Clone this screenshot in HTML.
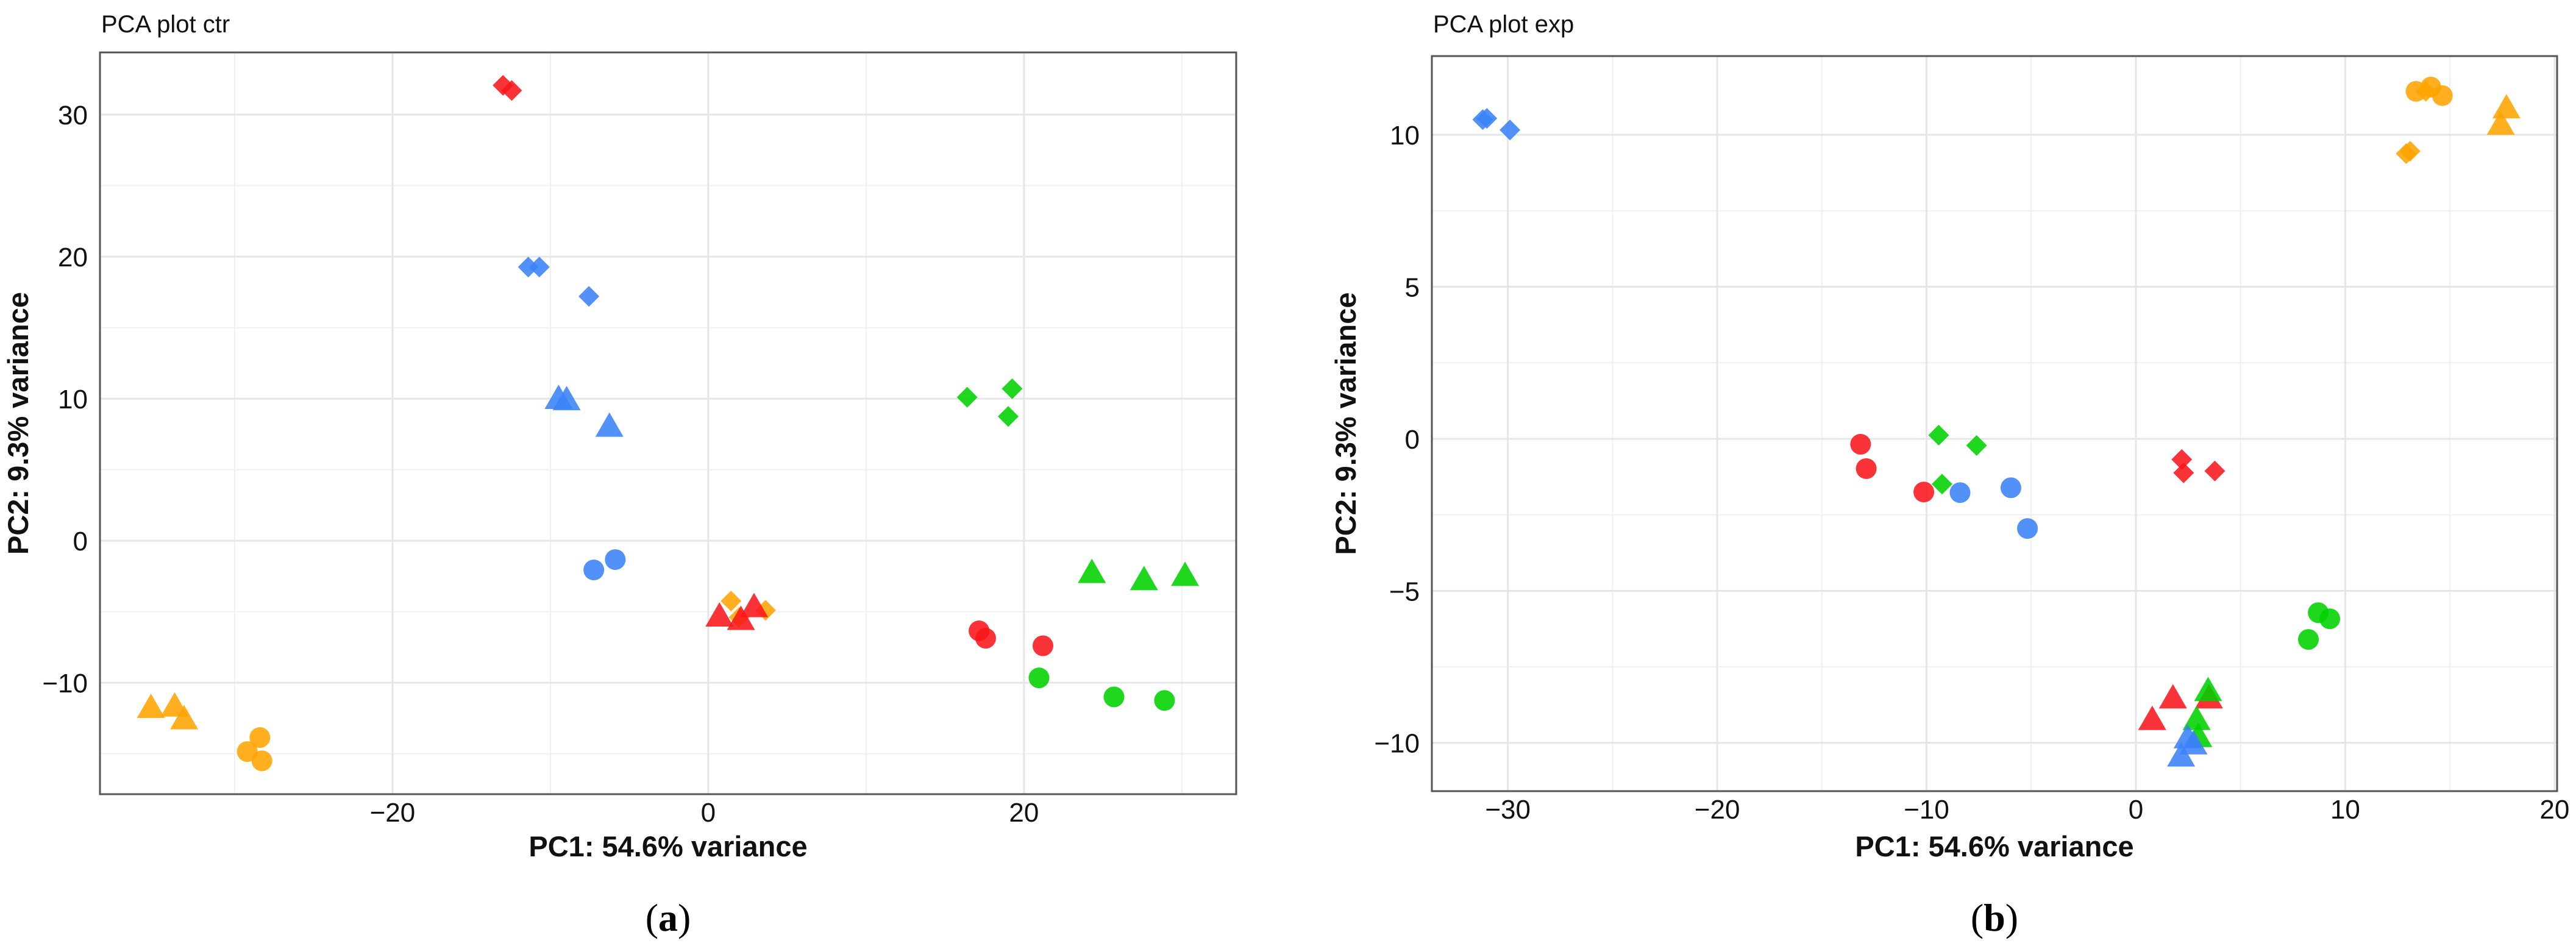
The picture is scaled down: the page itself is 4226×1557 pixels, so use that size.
<!DOCTYPE html>
<html><head><meta charset="utf-8"><style>
html,body{margin:0;padding:0;background:#fff;}
svg{display:block;}
text{font-family:"Liberation Sans",sans-serif;}
</style></head><body>
<svg id="chart" width="4226" height="1557" viewBox="0 0 4226 1557" xmlns="http://www.w3.org/2000/svg">
<g id="panelA"></g>
<g id="panelB"></g>
</svg>
<script>
// ---- Panel A data (PCA plot ctr) ----
const aTicksX = [-20, 0, 20];
const aTicksY = [-10, 0, 10, 20, 30];
const aMinorX = [-30, -10, 10, 30];
const aMinorY = [-15, -5, 5, 15, 25];
const aGroup = ['red','red','blue','blue','blue','blue','blue','blue','blue','blue','orange','orange','orange','red','red','red','green','green','green','green','green','green','red','red','red','green','green','green','orange','orange','orange','orange','orange','orange'];
const aShape = ['d','d','d','d','d','t','t','t','c','c','d','d','d','t','t','t','d','d','d','t','t','t','c','c','c','c','c','c','t','t','t','c','c','c'];
const aX = [-13.0,-12.45,-11.4,-10.7,-7.56,-9.48,-8.97,-6.26,-7.25,-5.89,1.44,1.96,3.63,0.71,2.07,2.9,16.4,19.25,19.0,24.3,27.6,30.2,17.15,17.57,21.2,20.95,25.7,28.9,-35.3,-33.8,-33.2,-28.4,-29.2,-28.27];
const aY = [32.06,31.7,19.27,19.27,17.2,9.96,9.87,8.0,-2.06,-1.33,-4.25,-5.4,-4.9,-5.36,-5.6,-4.7,10.1,10.7,8.75,-2.3,-2.8,-2.5,-6.35,-6.87,-7.4,-9.66,-11.0,-11.25,-11.8,-11.7,-12.6,-13.86,-14.85,-15.5];

// ---- Panel B data (PCA plot exp) ----
const bTicksX = [-30, -20, -10, 0, 10, 20];
const bTicksY = [-10, -5, 0, 5, 10];
const bMinorX = [-25, -15, -5, 5, 15];
const bMinorY = [-7.5, -2.5, 2.5, 7.5];
const bGroup = ['blue','blue','blue','orange','orange','orange','orange','orange','orange','orange','orange','red','red','red','green','green','green','blue','blue','blue','red','red','red','green','green','green','red','red','red','green','green','green','blue','blue','blue'];
const bShape = ['d','d','d','c','c','c','d','d','d','t','t','c','c','c','d','d','d','c','c','c','d','d','d','c','c','c','t','t','t','t','t','t','t','t','t'];
const bX = [-31.2,-31.0,-29.9,13.38,14.09,14.64,13.85,12.91,13.1,17.7,17.43,-13.15,-12.88,-10.13,-9.42,-7.61,-9.26,-8.4,-5.97,-5.18,2.19,2.28,3.77,8.71,9.26,8.24,0.78,1.77,3.49,3.45,2.9,2.98,2.16,2.47,2.75];
const bY = [10.5,10.54,10.16,11.43,11.57,11.29,11.43,9.38,9.46,10.86,10.32,-0.18,-0.98,-1.75,0.12,-0.22,-1.49,-1.77,-1.61,-2.95,-0.68,-1.12,-1.06,-5.72,-5.92,-6.6,-9.26,-8.55,-8.55,-8.31,-9.26,-9.82,-10.46,-9.86,-10.06];

const COLORS = {red:'#F8171B', blue:'#3A82F7', green:'#00D100', orange:'#FFA400'};
const NS = 'http://www.w3.org/2000/svg';

function mk(parent, tag, attrs, text){
  const e = document.createElementNS(NS, tag);
  for (const k in attrs) e.setAttribute(k, attrs[k]);
  if (text !== undefined) e.textContent = text;
  parent.appendChild(e);
  return e;
}

function drawPanel(g, cfg){
  const sx = v => cfg.left + (v - cfg.xmin) / (cfg.xmax - cfg.xmin) * (cfg.right - cfg.left);
  const sy = v => cfg.bottom - (v - cfg.ymin) / (cfg.ymax - cfg.ymin) * (cfg.bottom - cfg.top);
  cfg.minorX.forEach(v => {
    const l = mk(g,'line',{x1:sx(v),x2:sx(v),y1:cfg.top,y2:cfg.bottom,stroke:'#f0f0f0','stroke-width':2});
    
    
  });
  cfg.minorY.forEach(v => {
    const l = mk(g,'line',{x1:cfg.left,x2:cfg.right,y1:sy(v),y2:sy(v),stroke:'#f0f0f0','stroke-width':2});
    
    
  });
  cfg.ticksX.forEach(v => {
    const l = mk(g,'line',{x1:sx(v),x2:sx(v),y1:cfg.top,y2:cfg.bottom,stroke:'#e6e6e6','stroke-width':3});
    
    
    const t = mk(g,'text',{x:sx(v),y:cfg.bottom+45,'font-size':44,'text-anchor':'middle',fill:'#111'}, v<0?'\u2212'+Math.abs(v):String(v));
    
    
  });
  cfg.ticksY.forEach(v => {
    const l = mk(g,'line',{x1:cfg.left,x2:cfg.right,y1:sy(v),y2:sy(v),stroke:'#e6e6e6','stroke-width':3});
    
    
    const t = mk(g,'text',{x:cfg.left-20,y:sy(v)+16,'font-size':44,'text-anchor':'end',fill:'#111'}, v<0?'\u2212'+Math.abs(v):String(v));
    
    
  });
  for (let i=0;i<cfg.X.length;i++){
    const cx = sx(cfg.X[i]), cy = sy(cfg.Y[i]);
    const col = COLORS[cfg.G[i]];
    let m;
    if (cfg.S[i]==='c'){
      m = mk(g,'circle',{cx:cx,cy:cy,r:17,fill:col,'fill-opacity':0.88});
    } else if (cfg.S[i]==='t'){
      m = mk(g,'polygon',{points:`${cx},${cy-24} ${cx+23},${cy+16} ${cx-23},${cy+16}`,fill:col,'fill-opacity':0.88});
    } else {
      m = mk(g,'polygon',{points:`${cx},${cy-17} ${cx+17},${cy} ${cx},${cy+17} ${cx-17},${cy}`,fill:col,'fill-opacity':0.88});
    }
    
    
  }
  const b = mk(g,'rect',{x:cfg.left,y:cfg.top,width:cfg.right-cfg.left,height:cfg.bottom-cfg.top,fill:'none',stroke:'#555','stroke-width':3});
  
  
  const tt = mk(g,'text',{x:cfg.left+2,y:53,'font-size':40,fill:'#111'}, cfg.title);
  
  
  const cxm = (cfg.left+cfg.right)/2;
  const xt = mk(g,'text',{x:cxm,y:1405,'font-size':47,'font-weight':'bold','text-anchor':'middle',fill:'#111'}, 'PC1: 54.6% variance');
  
  
  const ym = (cfg.top+cfg.bottom)/2;
  const yt = mk(g,'text',{x:cfg.ylabX,y:ym,'font-size':47,'font-weight':'bold','text-anchor':'middle',fill:'#111',transform:`rotate(-90 ${cfg.ylabX} ${ym})`}, 'PC2: 9.3% variance');
  
  
  const cap = mk(g,'text',{x:cxm,y:1527,'font-size':64,'text-anchor':'middle',fill:'#000',style:'font-family:"Liberation Serif",serif'});
  
  
  mk(cap,'tspan',{},'(');
  mk(cap,'tspan',{'font-weight':'bold'},cfg.cap);
  mk(cap,'tspan',{},')');
}

drawPanel(document.getElementById('panelA'), {
  left:164,right:2028,top:86,bottom:1303,
  xmin:-38.53,xmax:33.44,ymin:-17.85,ymax:34.38,
  ticksX:aTicksX,ticksY:aTicksY,minorX:aMinorX,minorY:aMinorY,
  X:aX,Y:aY,G:aGroup,S:aShape,title:'PCA plot ctr',cap:'a',ylabX:46
});
drawPanel(document.getElementById('panelB'), {
  left:2349,right:4195,top:92,bottom:1298,
  xmin:-33.63,xmax:20.12,ymin:-11.59,ymax:12.59,
  ticksX:bTicksX,ticksY:bTicksY,minorX:bMinorX,minorY:bMinorY,
  X:bX,Y:bY,G:bGroup,S:bShape,title:'PCA plot exp',cap:'b',ylabX:2224
});
</script>
</body></html>
